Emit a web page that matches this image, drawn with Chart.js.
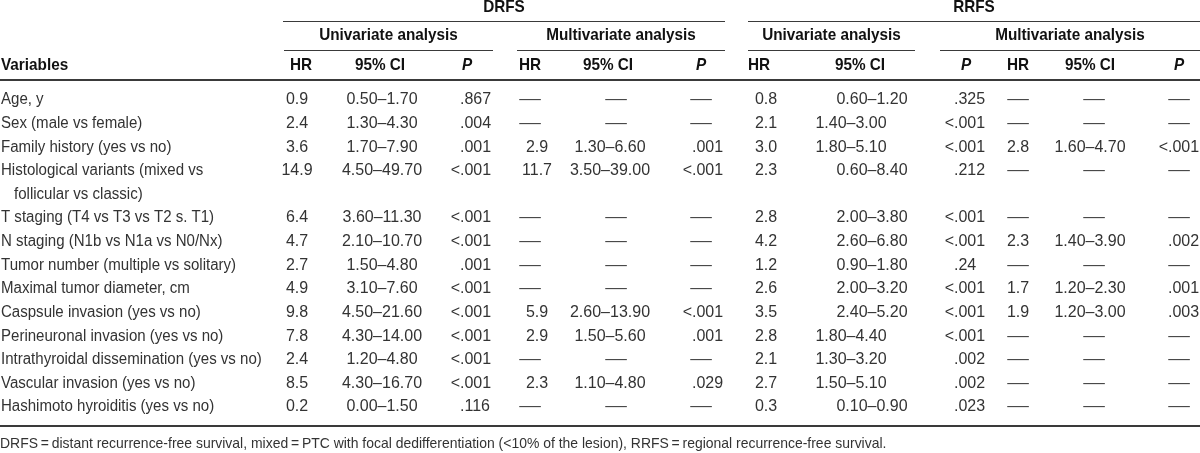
<!DOCTYPE html>
<html>
<head>
<meta charset="utf-8">
<script src="https://cdn.jsdelivr.net/npm/chart.js@4.4.1/dist/chart.umd.min.js"></script>
<style>
  html, body { margin: 0; padding: 0; background: #fff; }
  canvas { display: block; }
</style>
</head>
<body>
<canvas id="coxTable" width="1200" height="453"></canvas>
<script>
// Table data (one entry per variable)
const variables = [
  "Age, y",
  "Sex (male vs female)",
  "Family history (yes vs no)",
  "Histological variants (mixed vs\nfollicular vs classic)",
  "T staging (T4 vs T3 vs T2 s. T1)",
  "N staging (N1b vs N1a vs N0/Nx)",
  "Tumor number (multiple vs solitary)",
  "Maximal tumor diameter, cm",
  "Caspsule invasion (yes vs no)",
  "Perineuronal invasion (yes vs no)",
  "Intrathyroidal dissemination (yes vs no)",
  "Vascular invasion (yes vs no)",
  "Hashimoto hyroiditis (yes vs no)"
];

// DRFS, univariate
const drfsUniHR = [0.9, 2.4, 3.6, 14.9, 6.4, 4.7, 2.7, 4.9, 9.8, 7.8, 2.4, 8.5, 0.2];
const drfsUniCI = [[0.5, 1.7], [1.3, 4.3], [1.7, 7.9], [4.5, 49.7], [3.6, 11.3], [2.1, 10.7], [1.5, 4.8],
                   [3.1, 7.6], [4.5, 21.6], [4.3, 14.0], [1.2, 4.8], [4.3, 16.7], [0.0, 1.5]];
const drfsUniP = [".867", ".004", ".001", "<.001", "<.001", "<.001", ".001", "<.001", "<.001", "<.001", "<.001", "<.001", ".116"];

// DRFS, multivariate (null = not retained)
const drfsMultiHR = [null, null, 2.9, 11.7, null, null, null, null, 5.9, 2.9, null, 2.3, null];
const drfsMultiCI = [null, null, [1.3, 6.6], [3.5, 39.0], null, null, null, null, [2.6, 13.9], [1.5, 5.6], null, [1.1, 4.8], null];
const drfsMultiP = [null, null, ".001", "<.001", null, null, null, null, "<.001", ".001", null, ".029", null];

// RRFS, univariate
const rrfsUniHR = [0.8, 2.1, 3.0, 2.3, 2.8, 4.2, 1.2, 2.6, 3.5, 2.8, 2.1, 2.7, 0.3];
const rrfsUniCI = [[0.6, 1.2], [1.4, 3.0], [1.8, 5.1], [0.6, 8.4], [2.0, 3.8], [2.6, 6.8], [0.9, 1.8],
                   [2.0, 3.2], [2.4, 5.2], [1.8, 4.4], [1.3, 3.2], [1.5, 5.1], [0.1, 0.9]];
const rrfsUniP = [".325", "<.001", "<.001", ".212", "<.001", "<.001", ".24", "<.001", "<.001", "<.001", ".002", ".002", ".023"];

// RRFS, multivariate
const rrfsMultiHR = [null, null, 2.8, null, null, 2.3, null, 1.7, 1.9, null, null, null, null];
const rrfsMultiCI = [null, null, [1.6, 4.7], null, null, [1.4, 3.9], null, [1.2, 2.3], [1.2, 3.0], null, null, null, null];
const rrfsMultiP = [null, null, "<.001", null, null, ".002", null, ".001", ".003", null, null, null, null];

const groupTitles = ["DRFS", "RRFS"];
const analysisTitles = ["Univariate analysis", "Multivariate analysis"];
const columnTitles = ["HR", "95% CI", "P"];
const footnote = "DRFS\u2009=\u2009distant recurrence-free survival, mixed\u2009=\u2009PTC with focal dedifferentiation (<10% of the lesion), RRFS\u2009=\u2009regional recurrence-free survival.";

// ---- layout (x in pixels, y in row units) ----
const blocks = [
  { hr: drfsUniHR,  ci: drfsUniCI,  p: drfsUniP,  hrX: 297,  hrHead: 301,  ciX: 382,  ciHead: 380,  pDot: 460,  pHead: 467, x0: 284, x1: 493 },
  { hr: drfsMultiHR, ci: drfsMultiCI, p: drfsMultiP, hrX: 537, hrHead: 530, ciX: 610, ciHead: 608, pDot: 692, pHead: 701, x0: 517, x1: 725 },
  { hr: rrfsUniHR,  ci: rrfsUniCI,  p: rrfsUniP,  hrX: 766,  hrHead: 759,  ciX: 872,  ciHead: 860,  pDot: 954,  pHead: 966, x0: 748, x1: 915 },
  { hr: rrfsMultiHR, ci: rrfsMultiCI, p: rrfsMultiP, hrX: 1018, hrHead: 1018, ciX: 1090, ciHead: 1090, pDot: 1168, pHead: 1179, x0: 940, x1: 1200 }
];
const groupSpans = [[283, 725], [748, 1200]];
const rrfsCiShifted = [1, 2, 9, 10, 11]; // rows set further left in the source
const Y = { group: -3.938, groupLine: -3.345, analysis: -2.752, analysisLine: -2.117, head: -1.482, headLine: -0.847, bottomLine: 13.805, note: 14.567 };

const fmtCI = c => c[0].toFixed(2) + "\u2013" + c[1].toFixed(2);

function text(ctx, s, x, y, o) {
  ctx.save();
  ctx.font = (o.italic ? "italic " : "") + (o.bold ? "bold " : "") + (o.size || 16) + 'px "Liberation Sans", Arial, sans-serif';
  ctx.fillStyle = o.color || "#333";
  ctx.textBaseline = "middle";
  ctx.textAlign = o.align || "left";
  ctx.translate(x, y);
  ctx.scale(o.sx || 1, 1);
  ctx.fillText(s, 0, 0);
  ctx.restore();
}

function dash(ctx, x, y) {
  text(ctx, "\u2014", x, y, { align: "center", sx: 1.35, color: "#444" });
}

function hline(ctx, x0, x1, y, w) {
  ctx.save();
  ctx.strokeStyle = "#3a3a3a";
  ctx.lineWidth = w;
  ctx.beginPath();
  ctx.moveTo(x0, y);
  ctx.lineTo(x1, y);
  ctx.stroke();
  ctx.restore();
}

const tablePlugin = {
  id: "tablePlugin",
  afterDraw(chart) {
    const ctx = chart.ctx;
    const sx = v => chart.scales.x.getPixelForValue(v);
    const sy = v => chart.scales.y.getPixelForValue(v);
    const head = { bold: true, color: "#111", size: 17, sx: 0.9 };

    // group and analysis headings
    groupTitles.forEach((t, g) => {
      const [a, b] = groupSpans[g];
      text(ctx, t, sx((a + b) / 2), sy(Y.group), Object.assign({ align: "center" }, head));
      hline(ctx, sx(a), sx(b), Math.round(sy(Y.groupLine)) + 0.5, 1);
    });
    blocks.forEach((bl, i) => {
      text(ctx, analysisTitles[i % 2], sx((bl.x0 + bl.x1) / 2), sy(Y.analysis), Object.assign({ align: "center" }, head));
      hline(ctx, sx(bl.x0), sx(bl.x1), Math.round(sy(Y.analysisLine)) + 0.5, 1);
      text(ctx, columnTitles[0], sx(bl.hrHead), sy(Y.head), Object.assign({ align: "center" }, head));
      text(ctx, columnTitles[1], sx(bl.ciHead), sy(Y.head), Object.assign({ align: "center" }, head));
      text(ctx, columnTitles[2], sx(bl.pHead), sy(Y.head), Object.assign({ align: "center", italic: true }, head));
    });
    text(ctx, "Variables", sx(1), sy(Y.head), head);
    hline(ctx, sx(0), sx(1200), Math.round(sy(Y.headLine)), 2);

    // body rows
    let row = 0;
    variables.forEach((label, i) => {
      const lines = label.split("\n");
      lines.forEach((ln, k) => text(ctx, ln, sx(k ? 14 : 1), sy(row + k), { sx: 0.94 }));
      const y = sy(row);
      blocks.forEach((bl, b) => {
        const hr = bl.hr[i], ci = bl.ci[i], p = bl.p[i];
        if (hr == null) {
          dash(ctx, sx(bl.hrHead), y);
          dash(ctx, sx(bl.ciHead + (b === 1 ? 8 : 4)), y);
          dash(ctx, sx(bl.pHead), y);
          return;
        }
        text(ctx, hr.toFixed(1), sx(bl.hrX), y, { align: "center" });
        let cx = bl.ciX;
        if (b === 2) cx = rrfsCiShifted.includes(i) ? 851 : 872;
        text(ctx, fmtCI(ci), sx(cx), y, { align: "center" });
        const dot = p.indexOf(".");
        if (dot > 0) text(ctx, p.slice(0, dot), sx(bl.pDot), y, { align: "right" });
        text(ctx, p.slice(dot), sx(bl.pDot), y, { align: "left" });
      });
      row += lines.length;
    });

    hline(ctx, sx(0), sx(1200), Math.round(sy(Y.bottomLine)), 2);
    text(ctx, footnote, sx(0), sy(Y.note), { size: 15, sx: 0.93 });
  }
};

new Chart(document.getElementById("coxTable"), {
  type: "scatter",
  data: { datasets: [{ data: [], pointRadius: 0 }] },
  options: {
    responsive: false,
    animation: false,
    devicePixelRatio: 1,
    layout: { padding: 0 },
    plugins: { legend: { display: false }, tooltip: { enabled: false } },
    scales: {
      x: { type: "linear", min: 0, max: 1200, display: false },
      y: { type: "linear", min: -4.2346, max: 14.948, reverse: true, display: false }
    }
  },
  plugins: [tablePlugin]
});
</script>
</body>
</html>
